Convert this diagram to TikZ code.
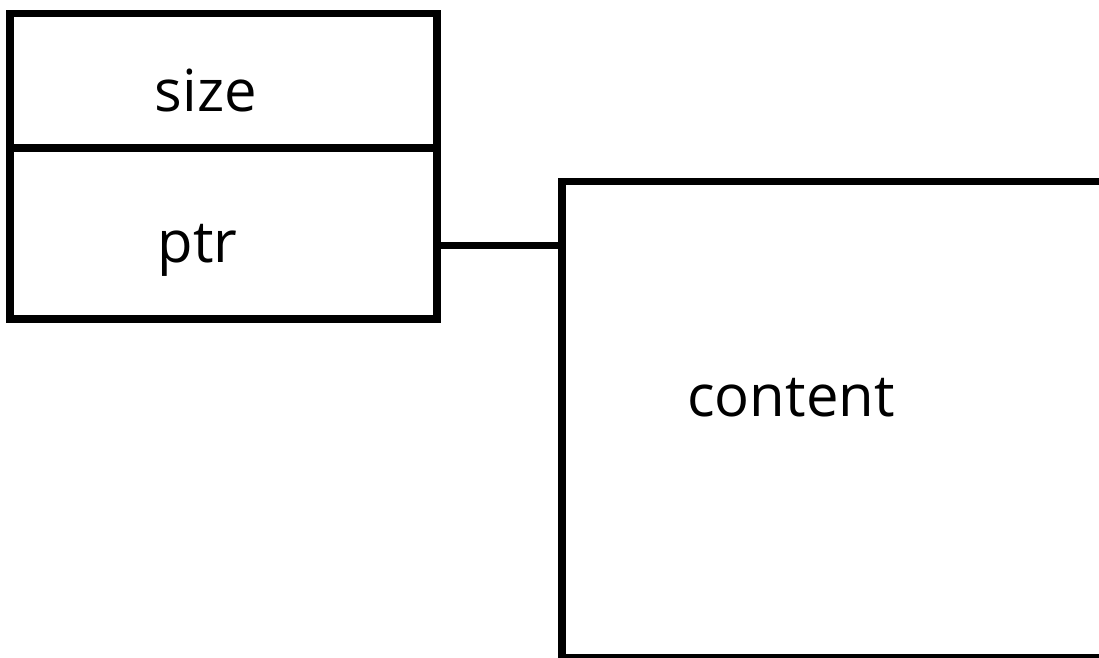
\documentclass[tikz,border=0pt]{standalone}
\usepackage{fontspec}
\setmainfont{Open Sans}
\tikzset{
  boxline/.style={draw=black, line width=7.5pt, line cap=rect, line join=miter},
  lbl/.style={anchor=base, inner sep=0pt, font=\fontsize{58}{60}\selectfont}
}
\begin{document}
\begin{tikzpicture}[x=1pt,y=-1pt]
\useasboundingbox (0,0) rectangle (1099,657);
\fill[white] (0,0) rectangle (1099,657);
% left record
\coordinate (ltl) at (10,13.5);
\coordinate (lbr) at (437,319);
\draw[boxline] (ltl) rectangle (lbr);
\coordinate (dl) at (10,148);
\coordinate (dr) at (437,148);
\draw[boxline] (dl) -- (dr);
\node[lbl] (size) at (206,111) {size};
\node[lbl] (ptr) at (197.5,262) {ptr};
% right box
\coordinate (rtl) at (562,181.5);
\coordinate (rbr) at (1110,658);
\draw[boxline] (rtl) rectangle (rbr);
\node[lbl] (content) at (791,416) {content};
% connector
\coordinate (cs) at (437,245.5);
\coordinate (ce) at (562,245.5);
\draw[boxline, line cap=butt] (cs) -- (ce);
\end{tikzpicture}
\end{document}
